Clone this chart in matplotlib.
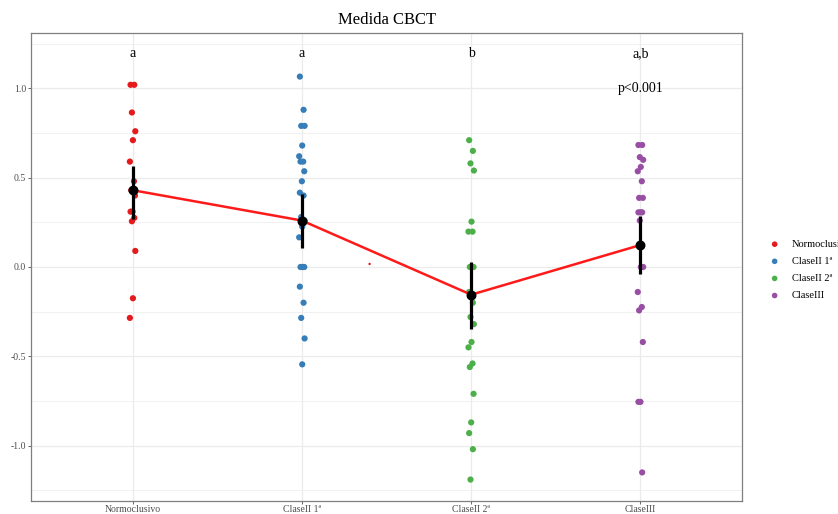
import matplotlib
matplotlib.use("Agg")
import matplotlib.pyplot as plt
import numpy as np
from matplotlib.ticker import MultipleLocator

plt.rcParams['font.family'] = ['Liberation Serif', 'DejaVu Serif']

categories = ["Normoclusivo", "ClaseII 1ª", "ClaseII 2ª", "ClaseIII"]
colors = ["#E41A1C", "#377EB8", "#4DAF4A", "#984EA3"]

normo = [1.02, 1.02, 0.865, 0.76, 0.71, 0.59, 0.48, 0.43, 0.40, 0.31, 0.31,
         0.275, 0.256, 0.09, -0.175, -0.285]
c2_1 = [1.066, 0.88, 0.79, 0.79, 0.68, 0.62, 0.59, 0.59, 0.536, 0.48, 0.416,
        0.40, 0.28, 0.26, 0.226, 0.166, 0.0, 0.0, 0.0, 0.0, -0.11, -0.20,
        -0.285, -0.40, -0.545]
c2_2 = [0.71, 0.65, 0.58, 0.54, 0.254, 0.198, 0.198, 0.0, 0.0, 0.0, -0.14,
        -0.20, -0.28, -0.32, -0.42, -0.45, -0.54, -0.56, -0.71, -0.87, -0.93,
        -1.02, -1.19]
c3 = [0.683, 0.683, 0.615, 0.60, 0.56, 0.536, 0.48, 0.387, 0.387, 0.306, 0.306,
      0.306, 0.26, 0.0, 0.0, -0.14, -0.224, -0.243, -0.42, -0.755, -0.755, -1.15]
groups = [normo, c2_1, c2_2, c3]

means = [0.43, 0.26, -0.155, 0.123]
err_low = [0.27, 0.105, -0.345, -0.04]
err_high = [0.567, 0.407, 0.03, 0.286]

letters = ["a", "a", "b", "a,b"]
pval = "p<0.001"
stray = (2.4, 0.017)

jitter_pattern = [-0.012, 0.01, -0.004, 0.016, 0.002, -0.016, 0.008, -0.008, 0.014, 0.0]

fig = plt.figure(figsize=(8.38, 5.14), dpi=100)
ax = fig.add_axes([0.037, 0.0253, 0.8485, 0.9105])

xs = np.arange(1, len(categories) + 1)
for i, (vals, col) in enumerate(zip(groups, colors)):
    jit = [jitter_pattern[k % len(jitter_pattern)] for k in range(len(vals))]
    ax.scatter(xs[i] + np.array(jit), vals, s=20, color=col, edgecolors='none',
               zorder=3, label=categories[i])

ax.scatter([stray[0]], [stray[1]], s=3, color=colors[0], edgecolors='none', zorder=3)

ax.plot(xs, means, color="#FF1A1A", lw=1.8, zorder=4)
ax.vlines(xs, err_low, err_high, color="black", lw=2.3, zorder=5)
ax.scatter(xs, means, s=38, color="black", zorder=6)

for x, t in zip(xs, letters):
    ax.text(x, 1.193, t, ha='center', va='center', fontsize=10)
ax.text(xs[-1], 1.0, pval, ha='center', va='center', fontsize=10)

ax.set_xlim(0.4, 4.6)
ax.set_ylim(-1.31, 1.31)
ax.set_xticks(xs)
ax.set_xticklabels(categories)
ax.yaxis.set_minor_locator(MultipleLocator(0.25))
ax.set_yticks([-1.0, -0.5, 0.0, 0.5, 1.0])
ax.set_yticklabels(["-1.0", "-0.5", "0.0", "0.5", "1.0"])
ax.tick_params(axis='both', which='major', labelsize=7, colors='#4d4d4d',
               length=2, width=0.6, pad=1.5)
ax.tick_params(axis='x', which='major', pad=1)
ax.tick_params(axis='y', which='minor', length=0)
ax.grid(True, which='major', color='#ebebeb', lw=0.9)
ax.grid(True, which='minor', axis='y', color='#ebebeb', lw=0.5)
ax.set_axisbelow(True)
for s in ax.spines.values():
    s.set_color('#7f7f7f')
    s.set_linewidth(0.9)

fig.text(0.462, 0.962, "Medida CBCT", ha='center', va='center', fontsize=12)

leg = fig.legend(loc='upper left', bbox_to_anchor=(0.907, 0.552), frameon=False,
                 fontsize=7.5, handletextpad=1.15, labelspacing=0.75,
                 markerscale=0.9, handlelength=1.0)

fig.savefig("out.png", dpi=100)
